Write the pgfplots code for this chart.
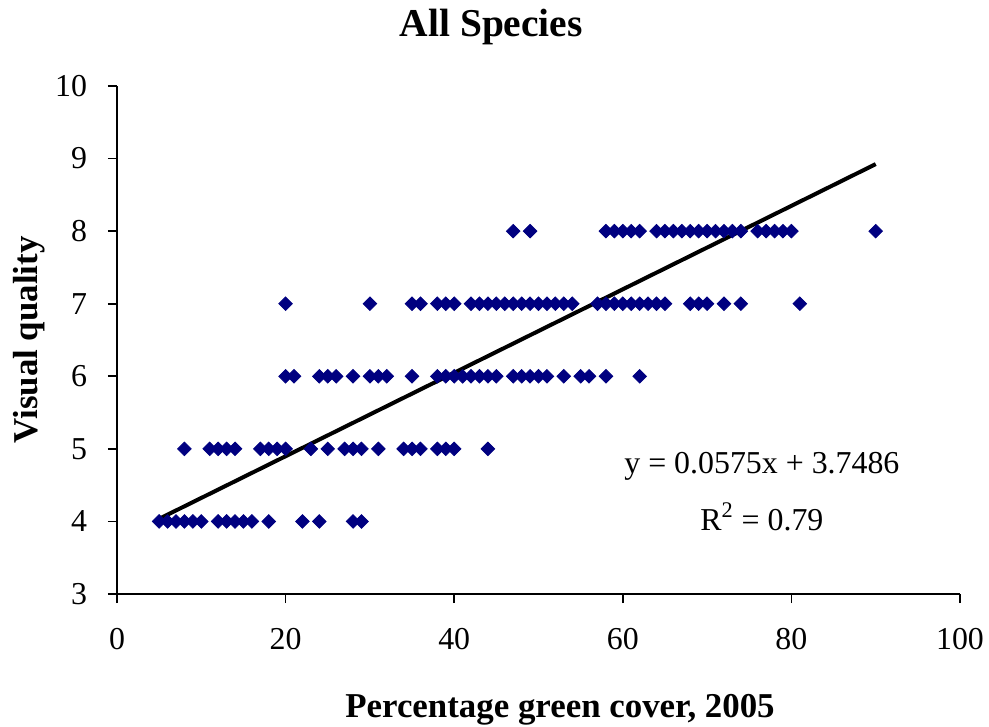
\documentclass[border=0pt]{standalone}
\usepackage{pgfplots}
\pgfplotsset{compat=1.18}
\usepackage{fontspec}
\setmainfont{Liberation Serif}
\definecolor{navy}{RGB}{0,0,128}
\begin{document}
\begin{tikzpicture}
\begin{axis}[
  name=ax,
  scale only axis,
  width=421.5bp, height=254bp,
  xmin=0, xmax=100, ymin=3, ymax=10,
  xtick={0,20,...,100}, ytick={3,4,...,10},
  axis lines=left,
  axis line style={-, line width=1bp, black},
  tick align=outside,
  major tick length=4.5bp,
  tick style={line width=0.8bp, black},
  /pgf/number format/assume math mode=true,
  ticklabel style={font=\fontsize{16}{19}\selectfont},
  xticklabel style={yshift=-9bp},
  yticklabel style={xshift=-7bp},
  xlabel={\textbf{Percentage green cover, 2005}},
  xlabel style={font=\fontsize{17.5}{21}\selectfont, at={(axis description cs:0.5255,-0.228)}, anchor=center},
  ylabel={\textbf{Visual quality}},
  ylabel style={font=\fontsize{17.5}{21}\selectfont, at={(axis description cs:-0.1038,0.5)}, anchor=center},
  clip=false,
]
\addplot[only marks, mark=square*, mark size=2.4bp, color=navy, mark options={fill=navy, draw=navy, rotate=45}] coordinates {
(5,4)(6,4)(7,4)(8,4)(9,4)(10,4)(12,4)(13,4)(14,4)(15,4)(16,4)(18,4)(22,4)(24,4)(28,4)(29,4)
(8,5)(11,5)(12,5)(13,5)(14,5)(17,5)(18,5)(19,5)(20,5)(23,5)(25,5)(27,5)(28,5)(29,5)(31,5)(34,5)(35,5)(36,5)(38,5)(39,5)(40,5)(44,5)
(20,6)(21,6)(24,6)(25,6)(26,6)(28,6)(30,6)(31,6)(32,6)(35,6)(38,6)(39,6)(40,6)(41,6)(42,6)(43,6)(44,6)(45,6)(47,6)(48,6)(49,6)(50,6)(51,6)(53,6)(55,6)(56,6)(58,6)(62,6)
(20,7)(30,7)(35,7)(36,7)(38,7)(39,7)(40,7)(42,7)(43,7)(44,7)(45,7)(46,7)(47,7)(48,7)(49,7)(50,7)(51,7)(52,7)(53,7)(54,7)(57,7)(58,7)(59,7)(60,7)(61,7)(62,7)(63,7)(64,7)(65,7)(68,7)(69,7)(70,7)(72,7)(74,7)(81,7)
(47,8)(49,8)(58,8)(59,8)(60,8)(61,8)(62,8)(64,8)(65,8)(66,8)(67,8)(68,8)(69,8)(70,8)(71,8)(72,8)(73,8)(74,8)(76,8)(77,8)(78,8)(79,8)(80,8)(90,8)
};
\addplot[black, line width=2bp, no marks] coordinates {(5,4.036) (90,8.9236)};
\node[font=\fontsize{16}{19}\selectfont, anchor=center] at (axis cs:76.5,4.76) {y = 0.0575x + 3.7486};
\node[font=\fontsize{16}{19}\selectfont, anchor=center] at (axis cs:76.5,4.06) {R\textsuperscript{2} = 0.79};
\node[font=\fontsize{19.8}{23}\selectfont, anchor=center] at (rel axis cs:0.444,1.116) {\textbf{All Species}};
\end{axis}
\pgfresetboundingbox
\path[use as bounding box] ([shift={(-58.5bp,-66.5bp)}]ax.south west) rectangle ([shift={(14.5bp,43bp)}]ax.north east);
\end{tikzpicture}
\end{document}
